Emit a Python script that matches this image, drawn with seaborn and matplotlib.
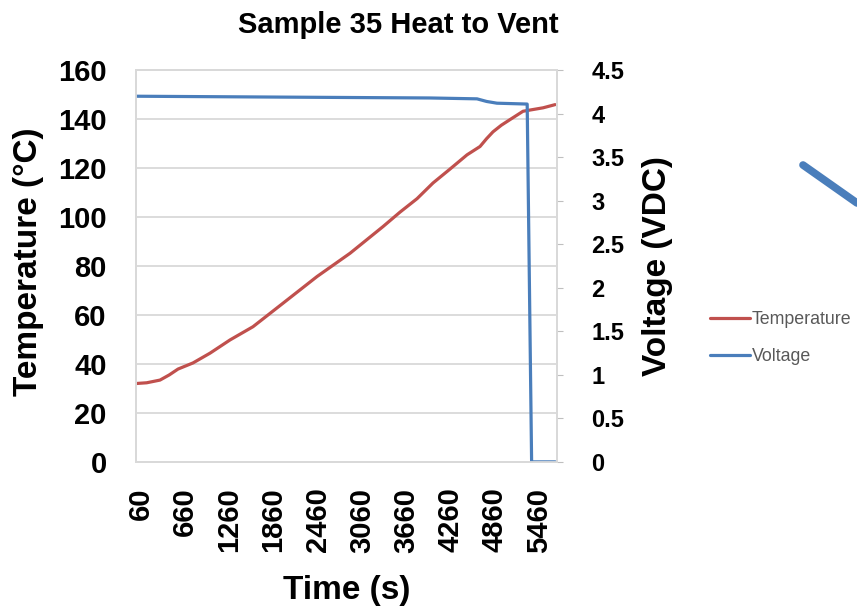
import matplotlib
matplotlib.use("Agg")
import matplotlib.pyplot as plt
from matplotlib.lines import Line2D
import seaborn as sns
import pandas as pd

# readings taken off the chart
temp_time = [0, 145, 325, 450, 569, 772, 1003, 1274, 1585, 1992, 2453, 2900, 3347,
             3577, 3808, 4024, 4255, 4485, 4661, 4750, 4837, 4950, 5068, 5244, 5379, 5515, 5678]
temperature = [32.0, 32.3, 33.4, 35.5, 37.9, 40.4, 44.4, 49.8, 55.2, 64.8, 75.7, 85.2, 96.1,
               102.0, 107.5, 113.9, 119.6, 125.4, 128.8, 132.0, 134.8, 137.5, 139.8, 143.2,
               143.9, 144.6, 145.9]

volt_time = [0, 1950, 3980, 4620, 4750, 4890, 5300, 5360, 5680]
voltage = [4.20, 4.19, 4.18, 4.17, 4.14, 4.12, 4.11, 0.0, 0.0]

time_ticks = [60, 660, 1260, 1860, 2460, 3060, 3660, 4260, 4860, 5460]
temp_ticks = [0, 20, 40, 60, 80, 100, 120, 140, 160]
volt_ticks = [0, 0.5, 1, 1.5, 2, 2.5, 3, 3.5, 4, 4.5]
volt_labels = ["0", "0.5", "1", "1.5", "2", "2.5", "3", "3.5", "4", "4.5"]

temp_df = pd.DataFrame({"Time": temp_time, "Temperature": temperature})
volt_df = pd.DataFrame({"Time": volt_time, "Voltage": voltage})

sns.set_style("white")
plt.rcParams["font.family"] = ["Liberation Sans", "DejaVu Sans"]

red = "#C0504D"
blue = "#4A7EBB"
grid_col = "#D9D9D9"

fig = plt.figure(figsize=(8.57, 6.15), dpi=100)
ax = fig.add_axes([0.1587, 0.249, 0.4909, 0.637])

sns.lineplot(data=temp_df, x="Time", y="Temperature", ax=ax, color=red, linewidth=2.3)
ax.set_xlim(0, 5700)
ax.set_ylim(0, 160)
ax.set_yticks(temp_ticks)
ax.set_xticks(time_ticks)
ax.set_xticklabels([str(t) for t in time_ticks], rotation=90, fontsize=21,
                   fontweight="bold", color="black")
ax.set_yticklabels([str(t) for t in temp_ticks], fontsize=21, fontweight="bold", color="black")
ax.tick_params(axis="x", length=0, pad=18.5)
ax.tick_params(axis="y", length=0, pad=21)
ax.yaxis.grid(True, color=grid_col, linewidth=1.3)
ax.set_axisbelow(True)
for sp in ax.spines.values():
    sp.set_color(grid_col)
    sp.set_linewidth(1.3)
ax.set_xlabel("Time (s)", fontsize=24, fontweight="bold", color="black")
ax.set_ylabel("Temperature (°C)", fontsize=24, fontweight="bold", color="black")
ax.xaxis.set_label_coords(0.5, -0.288)
ax.yaxis.set_label_coords(-0.219, 0.51)

ax2 = ax.twinx()
sns.lineplot(data=volt_df, x="Time", y="Voltage", ax=ax2, color=blue, linewidth=2.3)
ax2.set_ylim(0, 4.5)
ax2.set_yticks(volt_ticks)
ax2.set_yticklabels(volt_labels, fontsize=17, fontweight="bold", color="black")
ax2.tick_params(axis="y", length=4, color="#BFBFBF", pad=21)
for sp in ax2.spines.values():
    sp.set_color(grid_col)
    sp.set_linewidth(1.3)
ax2.set_ylabel("Voltage (VDC)", fontsize=24, fontweight="bold", color="black")
ax2.yaxis.set_label_coords(1.203, 0.5)

fig.text(398 / 857, 1 - 25 / 615, "Sample 35 Heat to Vent", ha="center", va="center",
         fontsize=21, fontweight="bold", color="black")

handles = [Line2D([], [], color=red, linewidth=2.3), Line2D([], [], color=blue, linewidth=2.3)]
fig.legend(handles, ["Temperature", "Voltage"], loc="center left",
           bbox_to_anchor=(710 / 857, 1 - 338 / 615), frameon=False, fontsize=12.8,
           handlelength=2.25, handletextpad=0.1, labelspacing=1.1, labelcolor="#595959",
           borderaxespad=0, borderpad=0)

# stray arrow stroke from the original screenshot
fig.add_artist(Line2D([803 / 857, 857 / 857], [1 - 165 / 615, 1 - 203 / 615],
                      color=blue, linewidth=5.5, transform=fig.transFigure))

fig.savefig("out.png", dpi=100)
